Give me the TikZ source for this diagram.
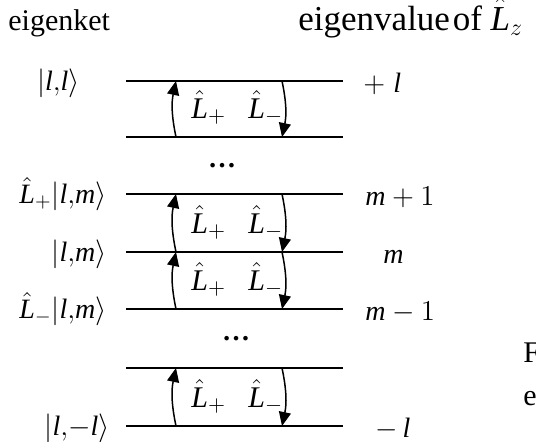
\documentclass[tikz,border=0pt]{standalone}
\usepackage{fontspec}
\setmainfont{Liberation Serif}
\usetikzlibrary{arrows.meta,positioning}
\newcommand{\Lh}[1]{\hat{\mathit{L}}_{#1}}
\newcommand{\kt}[1]{\Bigl|#1\Bigr\rangle}
\newcommand{\vl}{\mathit{l}}
\newcommand{\vm}{\mathit{m}}
\tikzset{
  lvl/.style={line width=1pt},
  ar/.style={-{Triangle[length=7pt,width=6pt]},line width=.75pt},
  ket/.style={anchor=base east,inner sep=0pt},
  val/.style={anchor=base west,inner sep=0pt},
  op/.style={anchor=base west,inner sep=0pt,font=\fontsize{15}{18}\selectfont},
  hd/.style={anchor=base west,inner sep=0pt},
  dts/.style={inner sep=0pt,font=\fontsize{14}{17}\selectfont\bfseries},
}

\begin{document}
\begin{tikzpicture}[x=0.5pt,y=-0.5pt,every node/.append style={font=\fontsize{14}{17}\selectfont}]
  \useasboundingbox (0,0) rectangle (536,441);
  % energy levels
  \foreach \n/\y in {1/81,2/137,3/194,4/252,5/309,6/368,7/426} {
    \coordinate (a\n) at (126,\y);
    \coordinate (b\n) at (343,\y);
    \coordinate (u\n) at (176,\y);
    \coordinate (d\n) at (282,\y);
    \draw[lvl] (a\n) -- (b\n);
  }
  % raising and lowering
  \foreach \lo/\hi in {2/1,4/3,5/4,7/6} {
    \draw[ar] (u\lo) to[bend left=12] (u\hi);
    \draw[ar] (d\hi) to[bend left=12] (d\lo);
    \node[op] (p\lo) at ([shift={(15,-19)}]u\lo) {$\Lh{+}$};
    \node[op] (q\lo) at ([shift={(-34,-19)}]d\lo) {$\Lh{-}$};
  }
  \node[dts] (dt1) at (222,166) {\ldots};
  \node[dts] (dt2) at (236,339) {\ldots};
  % headings
  \node[hd,font=\fontsize{15}{18}\selectfont] (hk) at (8,30) {eigenket};
  \node[hd,font=\fontsize{17.5}{20}\selectfont] (hv) at (298,30) {eigenvalue\hspace{.08em}of $\Lh{z}$};
  % kets
  \node[ket] (k1) at (80,90) {$\kt{\vl{,}\vl}$};
  \node[ket] (k3) at (107,203) {$\Lh{+}\kt{\vl{,}\vm}$};
  \node[ket] (k4) at (107,261) {$\kt{\vl{,}\vm}$};
  \node[ket] (k5) at (107,318) {$\Lh{-}\kt{\vl{,}\vm}$};
  \node[ket] (k7) at (110,435) {$\kt{\vl{,}{-}\vl}$};
  % eigenvalues
  \node[val] (v1) at (363,92) {${+}\;\vl$};
  \node[val] (v3) at (365,205) {$\vm+1$};
  \node[val] (v4) at (383,263) {$\vm$};
  \node[val] (v5) at (365,320) {$\vm-1$};
  \node[val] (v7) at (375,437) {${-}\,\vl$};
  % cut caption
  \node[hd,font=\fontsize{15}{18}\selectfont] (fa) at (523,362) {F};
  \node[hd,font=\fontsize{15}{18}\selectfont] (fb) at (523,405) {e};
\end{tikzpicture}
\end{document}
